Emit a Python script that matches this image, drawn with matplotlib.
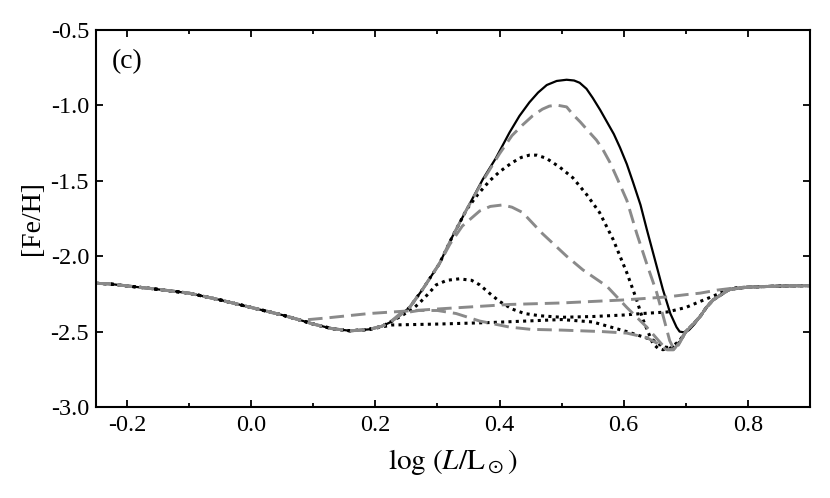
import matplotlib
matplotlib.use("Agg")
import matplotlib.pyplot as plt
from matplotlib.ticker import MultipleLocator, FormatStrFormatter

plt.rcParams['font.family'] = ['Liberation Serif', 'DejaVu Serif']
plt.rcParams['mathtext.fontset'] = 'stix'
plt.rcParams['axes.unicode_minus'] = False

# shared track before the curves split, and after they join again
base_x = [-0.25, -0.23, -0.2, -0.15, -0.1, -0.05, 0.0, 0.05, 0.08, 0.1, 0.13, 0.16, 0.19, 0.21]
base_y = [-2.18, -2.183, -2.197, -2.22, -2.245, -2.29, -2.34, -2.39, -2.425, -2.45, -2.48, -2.495, -2.485, -2.465]
tail_x = [0.744, 0.77, 0.8, 0.85, 0.9]
tail_y = [-2.29, -2.22, -2.205, -2.198, -2.195]

# solid black
solid_x = [0.223, 0.24, 0.255, 0.276, 0.303, 0.324, 0.347, 0.373, 0.394, 0.416, 0.432, 0.448, 0.462, 0.476,
           0.492, 0.508, 0.52, 0.529, 0.54, 0.55, 0.562, 0.573, 0.584, 0.594, 0.605, 0.615, 0.627, 0.637,
           0.65, 0.663, 0.675, 0.685, 0.69, 0.697, 0.705, 0.714, 0.723, 0.733]
solid_y = [-2.44, -2.39, -2.34, -2.22, -2.05, -1.87, -1.69, -1.49, -1.35, -1.18, -1.07, -0.98, -0.915, -0.865,
           -0.838, -0.83, -0.835, -0.85, -0.89, -0.95, -1.03, -1.11, -1.19, -1.28, -1.39, -1.51, -1.66, -1.82,
           -2.02, -2.22, -2.38, -2.47, -2.50, -2.505, -2.49, -2.45, -2.40, -2.34]

# gray dashed, peak near -1.0
g1_x = [0.223, 0.24, 0.255, 0.276, 0.303, 0.324, 0.347, 0.373, 0.40, 0.42, 0.437, 0.453, 0.469, 0.48,
        0.492, 0.508, 0.518, 0.53, 0.545, 0.556, 0.566, 0.578, 0.589, 0.605, 0.621, 0.637, 0.653, 0.665,
        0.674, 0.68, 0.688, 0.70, 0.712, 0.723, 0.733]
g1_y = [-2.44, -2.39, -2.34, -2.22, -2.05, -1.87, -1.69, -1.50, -1.32, -1.20, -1.13, -1.07, -1.025, -1.005,
        -0.998, -1.01, -1.06, -1.11, -1.18, -1.23, -1.29, -1.38, -1.48, -1.63, -1.85, -2.05, -2.24, -2.42,
        -2.56, -2.61, -2.59, -2.50, -2.45, -2.40, -2.34]

# black dotted, peak near -1.33
d1_x = [0.223, 0.24, 0.255, 0.276, 0.303, 0.324, 0.347, 0.365, 0.384, 0.40, 0.42, 0.435, 0.448, 0.46,
        0.475, 0.497, 0.518, 0.54, 0.561, 0.583, 0.605, 0.62, 0.631, 0.647, 0.655, 0.663, 0.675, 0.69,
        0.70, 0.712, 0.723, 0.733]
d1_y = [-2.44, -2.39, -2.34, -2.22, -2.05, -1.87, -1.69, -1.59, -1.50, -1.44, -1.38, -1.345, -1.33, -1.33,
        -1.35, -1.41, -1.48, -1.59, -1.71, -1.89, -2.11, -2.28, -2.42, -2.58, -2.61, -2.62, -2.61, -2.56,
        -2.50, -2.45, -2.40, -2.34]

# gray dashed, peak near -1.66
g3_x = [0.223, 0.24, 0.255, 0.276, 0.303, 0.32, 0.34, 0.368, 0.385, 0.405, 0.42, 0.437, 0.469, 0.508,
        0.534, 0.573, 0.605, 0.637, 0.669, 0.68, 0.69, 0.70, 0.712, 0.723, 0.733]
g3_y = [-2.44, -2.39, -2.34, -2.22, -2.05, -1.92, -1.80, -1.70, -1.67, -1.66, -1.675, -1.71, -1.85, -2.0,
        -2.09, -2.20, -2.34, -2.47, -2.62, -2.62, -2.57, -2.50, -2.45, -2.40, -2.34]

# black dotted, peak near -2.15
d2_x = [0.223, 0.24, 0.26, 0.271, 0.285, 0.298, 0.315, 0.335, 0.355, 0.368, 0.385, 0.40, 0.42, 0.44,
        0.465, 0.5, 0.55, 0.6, 0.63, 0.67, 0.70, 0.723, 0.744, 0.76, 0.78]
d2_y = [-2.44, -2.40, -2.35, -2.31, -2.25, -2.19, -2.16, -2.15, -2.16, -2.19, -2.25, -2.30, -2.35, -2.38,
        -2.395, -2.405, -2.40, -2.39, -2.38, -2.37, -2.34, -2.30, -2.265, -2.235, -2.21]

# long gray dashed
g5_x = [0.12, 0.19, 0.3, 0.416, 0.5, 0.6, 0.67, 0.70, 0.723, 0.75, 0.78, 0.8]
g5_y = [-2.41, -2.38, -2.35, -2.32, -2.31, -2.29, -2.27, -2.255, -2.245, -2.225, -2.21, -2.205]

# low flat black dotted
d3_x = [0.227, 0.3, 0.384, 0.5, 0.55, 0.605, 0.647, 0.663, 0.679, 0.69, 0.70, 0.712, 0.723, 0.733]
d3_y = [-2.456, -2.45, -2.44, -2.42, -2.436, -2.50, -2.556, -2.60, -2.61, -2.57, -2.50, -2.45, -2.40, -2.34]

# low gray dashed
g4_x = [0.223, 0.24, 0.27, 0.3, 0.33, 0.368, 0.416, 0.45, 0.5, 0.566, 0.605, 0.637, 0.655, 0.669,
        0.68, 0.69, 0.70, 0.712, 0.723, 0.733]
g4_y = [-2.44, -2.38, -2.36, -2.36, -2.38, -2.43, -2.47, -2.485, -2.49, -2.50, -2.51, -2.54, -2.58, -2.62,
        -2.62, -2.57, -2.50, -2.45, -2.40, -2.34]


def full(mid_x, mid_y, n_base=len(base_x), tail_from=0):
    return (base_x[:n_base] + mid_x + tail_x[tail_from:],
            base_y[:n_base] + mid_y + tail_y[tail_from:])


fig = plt.figure(figsize=(8.3, 4.98), dpi=100)
ax = fig.add_axes([0.1157, 0.1827, 0.8602, 0.7571])

gray = '#8a8a8a'
solid_kw = dict(color='black', lw=1.6, solid_capstyle='round', solid_joinstyle='round')
dot_kw = dict(color='black', lw=2.2, linestyle=(0, (1.0, 1.4)), dash_capstyle='butt')
dash_kw = dict(color=gray, lw=2.1, linestyle=(0, (5.0, 2.4)))

ax.plot(*full(solid_x, solid_y), **solid_kw)
ax.plot(*full(d1_x, d1_y), **dot_kw)
ax.plot(*full(d2_x, d2_y, tail_from=2), **dot_kw)
ax.plot(*full(d3_x, d3_y, n_base=13), **dot_kw)
ax.plot(*full(g1_x, g1_y), **dash_kw)
ax.plot(*full(g3_x, g3_y), **dash_kw)
ax.plot(*full(g5_x, g5_y, n_base=9, tail_from=3), **dash_kw)
ax.plot(*full(g4_x, g4_y), **dash_kw)

ax.set_xlim(-0.25, 0.9)
ax.set_ylim(-3.0, -0.5)
ax.xaxis.set_major_locator(MultipleLocator(0.2))
ax.xaxis.set_minor_locator(MultipleLocator(0.1))
ax.yaxis.set_major_locator(MultipleLocator(0.5))
ax.xaxis.set_major_formatter(FormatStrFormatter('%.1f'))
ax.yaxis.set_major_formatter(FormatStrFormatter('%.1f'))
ax.tick_params(which='both', direction='in', top=True, right=True, labelsize=17.5, width=1.3)
ax.tick_params(which='major', length=5)
ax.tick_params(which='minor', length=3)
ax.tick_params(axis='x', pad=6)
ax.tick_params(axis='y', pad=5)
for s in ax.spines.values():
    s.set_linewidth(1.5)

ax.set_xlabel(r'$\log\,(L/\mathrm{L}_\odot)$', fontsize=21, labelpad=8)
ax.set_ylabel('[Fe/H]', fontsize=20, labelpad=4)
ax.text(0.022, 0.915, '(c)', transform=ax.transAxes, fontsize=20, va='center')

fig.savefig('out.png', dpi=100)
